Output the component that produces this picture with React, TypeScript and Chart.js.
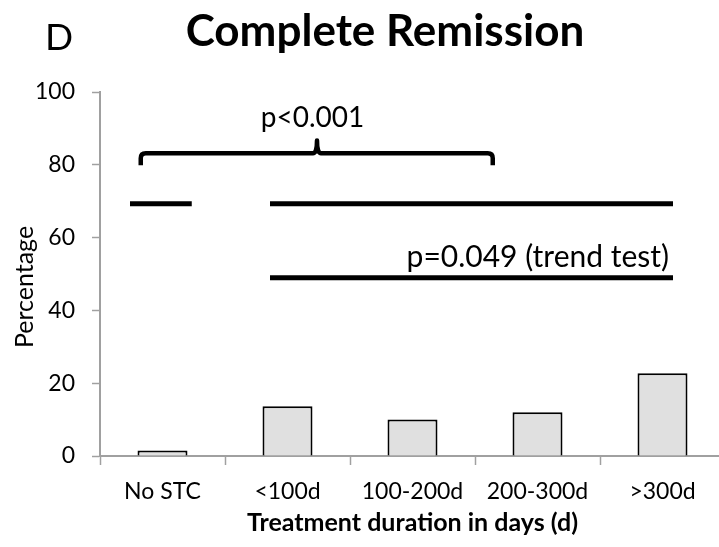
import React, { useEffect, useRef } from "react";
import { Chart, registerables } from "chart.js";

Chart.register(...registerables);

const categories = ["No STC", "<100d", "100-200d", "200-300d", ">300d"];
const completeRemission = [1.5, 13.7, 10.0, 12.0, 22.7];
const yTickValues = [0, 20, 40, 60, 80, 100];

// significance annotations, in category-index / percentage units
const sigLineStart = [-0.26, 0.86, 0.86];
const sigLineEnd = [0.234, 4.084, 4.084];
const sigLineLevel = [69.3, 69.3, 49.0];
const braceStart = -0.174;
const braceEnd = 2.642;
const braceTip = 1.236;
const braceLevels = [79.9, 83.2, 86.7]; // ends, bar, tip
const pValueLabels = ["p<0.001", "p=0.049 (trend test)"];
const pValueX = [1.2, 4.052];
const pValueY = [90.3, 51.8];
const pValueAlign: CanvasTextAlign[] = ["center", "right"];
const pValueSize = [28, 30];

const chartTitle = "Complete Remission";
const panelLetter = "D";
const yTitle = "Percentage";
const xTitle = "Treatment duration in days (d)";

const FONT = "Lato, 'Open Sans', sans-serif";

const annotationsPlugin = {
  id: "annotations",
  afterDraw(chart: any) {
    const { ctx } = chart;
    const x = chart.scales.x;
    const y = chart.scales.y;
    ctx.save();
    ctx.strokeStyle = "#000";
    ctx.fillStyle = "#000";
    ctx.lineWidth = 5;
    ctx.lineCap = "butt";
    for (let i = 0; i < sigLineStart.length; i++) {
      const yy = y.getPixelForValue(sigLineLevel[i]);
      ctx.beginPath();
      ctx.moveTo(x.getPixelForValue(sigLineStart[i]), yy);
      ctx.lineTo(x.getPixelForValue(sigLineEnd[i]), yy);
      ctx.stroke();
    }
    // brace
    const xl = x.getPixelForValue(braceStart);
    const xr = x.getPixelForValue(braceEnd);
    const xt = x.getPixelForValue(braceTip);
    const ye = y.getPixelForValue(braceLevels[0]);
    const yb = y.getPixelForValue(braceLevels[1]);
    const ytip = y.getPixelForValue(braceLevels[2]);
    const r = 5;
    ctx.lineWidth = 4.5;
    ctx.lineJoin = "round";
    ctx.beginPath();
    ctx.moveTo(xl, ye);
    ctx.lineTo(xl, yb + r);
    ctx.quadraticCurveTo(xl, yb, xl + r, yb);
    ctx.lineTo(xt - 4, yb);
    ctx.quadraticCurveTo(xt, yb, xt, ytip);
    ctx.quadraticCurveTo(xt, yb, xt + 4, yb);
    ctx.lineTo(xr - r, yb);
    ctx.quadraticCurveTo(xr, yb, xr, yb + r);
    ctx.lineTo(xr, ye);
    ctx.stroke();
    // p-value labels
    ctx.textBaseline = "alphabetic";
    for (let i = 0; i < pValueLabels.length; i++) {
      ctx.font = `${pValueSize[i]}px ${FONT}`;
      ctx.textAlign = pValueAlign[i];
      ctx.fillText(pValueLabels[i], x.getPixelForValue(pValueX[i]), y.getPixelForValue(pValueY[i]));
    }
    // titles
    ctx.textAlign = "center";
    ctx.font = `bold 44px ${FONT}`;
    ctx.fillText(chartTitle, 385, 46);
    ctx.textAlign = "left";
    ctx.font = `37px ${FONT}`;
    ctx.fillText(panelLetter, 45, 50);
    // y title
    ctx.save();
    ctx.translate(33, 287);
    ctx.rotate(-Math.PI / 2);
    ctx.textAlign = "center";
    ctx.font = `25px ${FONT}`;
    ctx.fillText(yTitle, 0, 0);
    ctx.restore();
    ctx.restore();
  },
};

export default function App() {
  const ref = useRef<HTMLCanvasElement | null>(null);
  useEffect(() => {
    if (!ref.current) return;
    const chart = new Chart(ref.current, {
      type: "bar",
      data: {
        labels: categories,
        datasets: [
          {
            data: completeRemission,
            backgroundColor: "#e0e0e0",
            borderColor: "#000",
            borderWidth: 2,
            barPercentage: 0.4,
            categoryPercentage: 1,
          },
        ],
      },
      options: {
        animation: false,
        responsive: true,
        maintainAspectRatio: false,
        layout: { padding: { top: 92, left: 0, right: 1, bottom: 0 } },
        plugins: { legend: { display: false }, tooltip: { enabled: false }, title: { display: false } },
        scales: {
          x: {
            afterFit: (s: any) => {
              s.height = 91;
            },
            grid: {
              offset: true,
              drawOnChartArea: false,
              drawTicks: true,
              tickLength: 9,
              tickColor: "#a0a0a0",
              tickWidth: 1.5,
            },
            border: { color: "#a0a0a0", width: 2 },
            ticks: { color: "#000", font: { family: FONT, size: 23 }, padding: 13 },
            title: {
              display: true,
              text: xTitle,
              color: "#000",
              font: { family: FONT, size: 25, weight: "bold" },
              padding: { top: 0, bottom: 9 },
            },
          },
          y: {
            min: 0,
            max: 100,
            afterFit: (s: any) => {
              s.width = 100;
            },
            afterBuildTicks: (s: any) => {
              s.ticks = yTickValues.map((v) => ({ value: v }));
            },
            grid: {
              drawOnChartArea: false,
              drawTicks: true,
              tickLength: 8,
              tickColor: "#a0a0a0",
              tickWidth: 1.5,
            },
            border: { color: "#a0a0a0", width: 2 },
            ticks: { color: "#000", font: { family: FONT, size: 23 }, padding: 17 },
          },
        },
      },
      plugins: [annotationsPlugin],
    });
    return () => chart.destroy();
  }, []);
  return (
    <div style={{ position: "fixed", left: 0, top: 0, width: 719, height: 547, overflow: "hidden", background: "#fff" }}>
      <div style={{ position: "relative", width: 726, height: 547 }}>
        <canvas ref={ref} />
      </div>
    </div>
  );
}
